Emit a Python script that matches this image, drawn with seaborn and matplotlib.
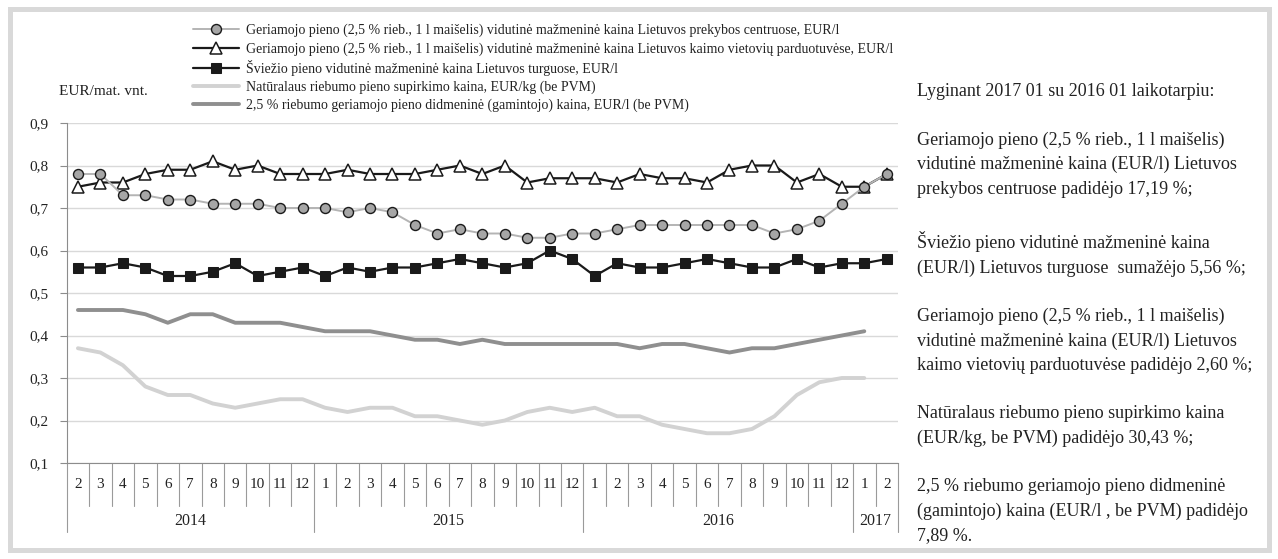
import matplotlib
matplotlib.use("Agg")
import matplotlib.pyplot as plt
import matplotlib.transforms as mtransforms
from matplotlib.patches import Rectangle
from matplotlib.ticker import FuncFormatter
import numpy as np
import pandas as pd
import seaborn as sns

# Month axis: 2014-02 .. 2017-02
months = [2, 3, 4, 5, 6, 7, 8, 9, 10, 11, 12] + list(range(1, 13)) * 2 + [1, 2]
years = [2014] * 11 + [2015] * 12 + [2016] * 12 + [2017] * 2

# Retail price in shopping centres (circles)
retail_centres = [0.78, 0.78, 0.73, 0.73, 0.72, 0.72, 0.71, 0.71, 0.71, 0.70, 0.70,
                  0.70, 0.69, 0.70, 0.69, 0.66, 0.64, 0.65, 0.64, 0.64, 0.63, 0.63, 0.64,
                  0.64, 0.65, 0.66, 0.66, 0.66, 0.66, 0.66, 0.66, 0.64, 0.65, 0.67, 0.71,
                  0.75, 0.78]
# Retail price in rural shops (triangles)
retail_rural = [0.75, 0.76, 0.76, 0.78, 0.79, 0.79, 0.81, 0.79, 0.80, 0.78, 0.78,
                0.78, 0.79, 0.78, 0.78, 0.78, 0.79, 0.80, 0.78, 0.80, 0.76, 0.77, 0.77,
                0.77, 0.76, 0.78, 0.77, 0.77, 0.76, 0.79, 0.80, 0.80, 0.76, 0.78, 0.75,
                0.75, 0.78]
# Fresh milk at markets (squares)
fresh_market = [0.56, 0.56, 0.57, 0.56, 0.54, 0.54, 0.55, 0.57, 0.54, 0.55, 0.56,
                0.54, 0.56, 0.55, 0.56, 0.56, 0.57, 0.58, 0.57, 0.56, 0.57, 0.60, 0.58,
                0.54, 0.57, 0.56, 0.56, 0.57, 0.58, 0.57, 0.56, 0.56, 0.58, 0.56, 0.57,
                0.57, 0.58]
# Raw milk purchase price
purchase = [0.37, 0.36, 0.33, 0.28, 0.26, 0.26, 0.24, 0.23, 0.24, 0.25, 0.25,
            0.23, 0.22, 0.23, 0.23, 0.21, 0.21, 0.20, 0.19, 0.20, 0.22, 0.23, 0.22,
            0.23, 0.21, 0.21, 0.19, 0.18, 0.17, 0.17, 0.18, 0.21, 0.26, 0.29, 0.30,
            0.30, np.nan]
# Wholesale (producer) price
wholesale = [0.46, 0.46, 0.46, 0.45, 0.43, 0.45, 0.45, 0.43, 0.43, 0.43, 0.42,
             0.41, 0.41, 0.41, 0.40, 0.39, 0.39, 0.38, 0.39, 0.38, 0.38, 0.38, 0.38,
             0.38, 0.38, 0.37, 0.38, 0.38, 0.37, 0.36, 0.37, 0.37, 0.38, 0.39, 0.40,
             0.41, np.nan]

labels = [
    "Geriamojo pieno (2,5 % rieb., 1 l maišelis) vidutinė mažmeninė kaina Lietuvos prekybos centruose, EUR/l",
    "Geriamojo pieno (2,5 % rieb., 1 l maišelis) vidutinė mažmeninė kaina Lietuvos kaimo vietovių parduotuvėse, EUR/l",
    "Šviežio pieno vidutinė mažmeninė kaina Lietuvos turguose, EUR/l",
    "Natūralaus riebumo pieno supirkimo kaina, EUR/kg (be PVM)",
    "2,5 % riebumo geriamojo pieno didmeninė (gamintojo) kaina, EUR/l (be PVM)",
]

side_text = (
    "Lyginant 2017 01 su 2016 01 laikotarpiu:\n\n"
    "Geriamojo pieno (2,5 % rieb., 1 l maišelis)\n"
    "vidutinė mažmeninė kaina (EUR/l) Lietuvos\n"
    "prekybos centruose padidėjo 17,19 %;\n\n"
    "Šviežio pieno vidutinė mažmeninė kaina\n"
    "(EUR/l) Lietuvos turguose  sumažėjo 5,56 %;\n\n"
    "Geriamojo pieno (2,5 % rieb., 1 l maišelis)\n"
    "vidutinė mažmeninė kaina (EUR/l) Lietuvos\n"
    "kaimo vietovių parduotuvėse padidėjo 2,60 %;\n\n"
    "Natūralaus riebumo pieno supirkimo kaina\n"
    "(EUR/kg, be PVM) padidėjo 30,43 %;\n\n"
    "2,5 % riebumo geriamojo pieno didmeninė\n"
    "(gamintojo) kaina (EUR/l , be PVM) padidėjo\n"
    "7,89 %."
)

sns.set_style("white")
plt.rcParams["font.family"] = ["Liberation Serif", "DejaVu Serif"]

W, H = 1278, 559
fig = plt.figure(figsize=(W / 100, H / 100), dpi=100)
ax = fig.add_axes([66.7 / W, 1 - 463 / H, (898 - 66.7) / W, (463 - 123) / H])

df = pd.DataFrame({
    "idx": np.arange(len(months)),
    "month": months,
    "year": years,
    "centres": retail_centres,
    "rural": retail_rural,
    "market": fresh_market,
    "purchase": purchase,
    "wholesale": wholesale,
})

styles = {
    "centres": dict(color="#b4b4b4", linewidth=1.4, marker="o", markersize=7.2,
                    markerfacecolor="#a6a6a6", markeredgecolor="#1a1a1a",
                    markeredgewidth=1.0, zorder=4),
    "rural": dict(color="#1a1a1a", linewidth=1.6, marker="^", markersize=9,
                  markerfacecolor="white", markeredgecolor="#1a1a1a",
                  markeredgewidth=1.1, zorder=3),
    "market": dict(color="#1a1a1a", linewidth=1.6, marker="s", markersize=7,
                   markerfacecolor="#1a1a1a", markeredgecolor="#1a1a1a", zorder=3),
    "purchase": dict(color="#d2d2d2", linewidth=2.8, zorder=2),
    "wholesale": dict(color="#8f8f8f", linewidth=2.8, zorder=2),
}

handles = []
for col in ["centres", "rural", "market", "purchase", "wholesale"]:
    sub = df[["idx", col]].dropna()
    sns.lineplot(data=sub, x="idx", y=col, ax=ax, estimator=None, errorbar=None,
                 sort=False, legend=False, **styles[col])
    handles.append(ax.get_lines()[-1])

ax.set_xlim(-0.5, len(months) - 0.5)
ax.set_ylim(0.1, 0.9)
ax.set_yticks(np.arange(0.1, 0.91, 0.1))
ax.yaxis.set_major_formatter(FuncFormatter(lambda v, _: f"{v:.1f}".replace(".", ",")))
ax.set_xticks(df["idx"])
ax.set_xticklabels([str(m) for m in months])
ax.set_xlabel("")
ax.set_ylabel("")
ax.yaxis.grid(True, color="#d9d9d9", linewidth=1)
ax.xaxis.grid(False)
ax.set_axisbelow(True)
for side in ["top", "right"]:
    ax.spines[side].set_visible(False)
for side in ["left", "bottom"]:
    ax.spines[side].set_color("#8c8c8c")
    ax.spines[side].set_linewidth(0.8)
ax.tick_params(axis="y", length=5, width=0.8, color="#8c8c8c", pad=8,
               labelsize=11, labelcolor="#222222", left=True)
ax.tick_params(axis="x", length=0, pad=11, labelsize=11, labelcolor="#222222")

# Category separators below the axis
trans = mtransforms.blended_transform_factory(ax.transData, ax.transAxes)
year_edges = set()
for y, grp in df.groupby("year"):
    year_edges.add(grp["idx"].min() - 0.5)
    year_edges.add(grp["idx"].max() + 0.5)
    ax.text(grp["idx"].mean(), -0.17, str(y), transform=trans, ha="center",
            va="center", fontsize=11.5, color="#222222")
for b in np.arange(-0.5, len(months)):
    depth = -0.203 if b in year_edges else -0.126
    ax.plot([b, b], [0, depth], transform=trans, clip_on=False,
            color="#9a9a9a", linewidth=0.8)

fig.legend(handles, labels, loc="upper left", bbox_to_anchor=(193 / W, 1 - 24 / H),
           frameon=False, fontsize=10, handlelength=3.3, handletextpad=0.5,
           labelspacing=0.33, borderpad=0, borderaxespad=0, labelcolor="#222222")

fig.text(103 / W, 1 - 91 / H, "EUR/mat. vnt.", ha="center", va="center",
         fontsize=11, color="#222222")
fig.text(917 / W, 1 - 83 / H, side_text, ha="left", va="top", fontsize=13,
         linespacing=1.55, color="#222222")

fig.add_artist(Rectangle((9.5 / W, 9.5 / H), (W - 19) / W, (H - 19) / H,
                         transform=fig.transFigure, fill=False,
                         edgecolor="#d9d9d9", linewidth=3.6))

fig.savefig("out.png", dpi=100)
plt.close(fig)
